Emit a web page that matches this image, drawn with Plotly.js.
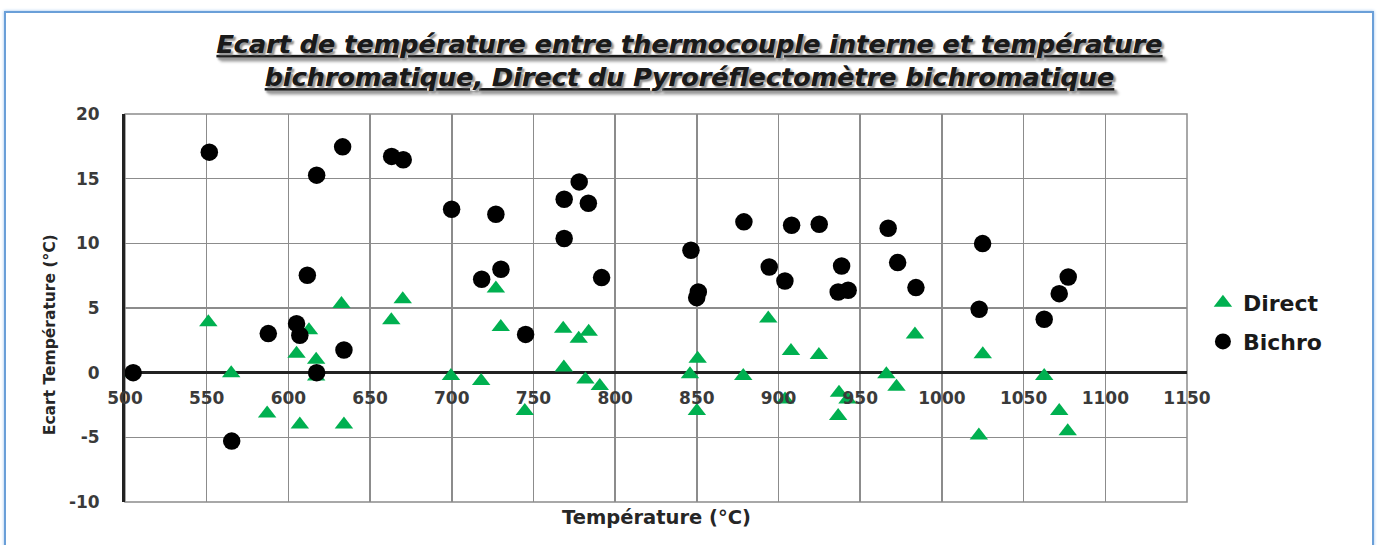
<!DOCTYPE html>
<html>
<head>
<meta charset="utf-8">
<script src="https://cdn.plot.ly/plotly-3.0.1.min.js"></script>
<style>
  html, body { margin:0; padding:0; background:#fff; }
  #wrap { position:relative; width:1379px; height:545px; overflow:hidden; }
  #chart { width:1379px; height:545px; }
  #frame { position:absolute; left:4px; top:11px; width:1366px; height:600px;
           border:2px solid #6a9fd8; box-shadow:0 0 3px #9cc3ee; pointer-events:none; }
</style>
</head>
<body>
<div id="wrap"><div id="chart"></div><div id="frame"></div></div>
<script>
// Température (°C) and Ecart (°C) for each series
const directTemp = [503, 551, 565, 587, 605, 612.6, 617, 617, 607, 634, 632.5, 663, 670, 699.5, 718, 727, 730, 744.7, 768.2, 768.6, 777.7, 783.8, 781.8, 790.6, 845.8, 850.5, 850, 878.4, 893.7, 907.6, 904, 924.7, 937, 942.2, 936.5, 966, 972.2, 983.5, 1025, 1022.6, 1062.6, 1071.8, 1077];
const directEcart = [0, 3.9, -0.05, -3.15, 1.47, 3.27, 1.0, -0.3, -4.0, -4.0, 5.3, 4.05, 5.67, -0.26, -0.65, 6.5, 3.53, -2.97, 3.4, 0.39, 2.63, 3.17, -0.52, -1.03, -0.13, 1.08, -2.97, -0.26, 4.18, 1.67, -2.07, 1.36, -1.55, -2.07, -3.36, -0.13, -1.08, 2.96, 1.42, -4.85, -0.26, -2.97, -4.52];

const bichroTemp = [505, 551.6, 565.3, 587.7, 605, 607, 611.6, 617.3, 617.3, 633.2, 634, 663.2, 670.3, 699.9, 727, 718.3, 730.1, 745.2, 778, 768.8, 783.6, 768.8, 791.7, 846.4, 850.9, 849.9, 878.8, 908, 924.9, 894.3, 903.9, 938.6, 936.5, 942.6, 967.1, 972.9, 984.1, 1024.9, 1022.8, 1077.3, 1071.8, 1062.6];
const bichroEcart = [0, 17.05, -5.29, 3.02, 3.79, 2.89, 7.53, 15.27, 0, 17.46, 1.75, 16.72, 16.46, 12.64, 12.25, 7.22, 8.0, 2.96, 14.75, 13.41, 13.1, 10.37, 7.35, 9.47, 6.24, 5.8, 11.66, 11.4, 11.48, 8.17, 7.09, 8.25, 6.24, 6.37, 11.17, 8.51, 6.58, 9.98, 4.9, 7.4, 6.11, 4.13];

const xTicks = [500, 550, 600, 650, 700, 750, 800, 850, 900, 950, 1000, 1050, 1100, 1150];
const yTicks = [-10, -5, 0, 5, 10, 15, 20];

const F = 'DejaVu Sans, Verdana, sans-serif';
const tickFont = {family: F, size: 17, color: '#3a3a3a', weight: 'bold'};

const traces = [
  {x: directTemp, y: directEcart, type: 'scatter', mode: 'markers', name: 'Direct',
   legendgroup: 'a',
   marker: {symbol: 'triangle-up', size: 16, color: '#00B050'}},
  {x: bichroTemp, y: bichroEcart, type: 'scatter', mode: 'markers', name: 'Bichro',
   legendgroup: 'b',
   marker: {symbol: 'circle', size: 17.5, color: '#000000'}}
];

const layout = {
  width: 1379, height: 545,
  margin: {l: 125, r: 192, t: 114, b: 43},
  paper_bgcolor: '#ffffff', plot_bgcolor: '#ffffff',
  showlegend: true,
  title: {
    text: 'Ecart de température entre thermocouple interne et température<br>bichromatique, Direct du Pyroréflectomètre bichromatique',
    font: {family: F, size: 25.5, color: '#1a1a1a', weight: 'bold', style: 'italic',
           lineposition: 'under', shadow: '2px 2px 2px #999'},
    x: 0.5, xref: 'container', xanchor: 'center',
    y: 0.903, yref: 'container', yanchor: 'top'
  },
  xaxis: {
    range: [500, 1150], tickvals: xTicks, ticktext: xTicks.map(String),
    anchor: 'free', position: 1/3,
    showgrid: true, gridcolor: '#8c8c8c', gridwidth: 1.5,
    zeroline: false, showline: false, ticks: '',
    ticklabelstandoff: 13,
    tickfont: tickFont
  },
  yaxis: {
    range: [-10, 20], tickvals: yTicks, ticktext: yTicks.map(String),
    showgrid: true, gridcolor: '#8c8c8c', gridwidth: 1.5,
    zeroline: true, zerolinecolor: '#222222', zerolinewidth: 2.5,
    showline: true, linecolor: '#222222', linewidth: 3, mirror: false,
    ticks: '', ticklabelstandoff: 19,
    tickfont: tickFont
  },
  shapes: [
    {type: 'rect', xref: 'paper', yref: 'paper', x0: 0, x1: 1, y0: 0, y1: 1,
     line: {color: '#8c8c8c', width: 1.5}, layer: 'below'}
  ],
  annotations: [
    {text: 'Température (°C)', xref: 'paper', yref: 'paper', x: 0.5, y: -0.041,
     xanchor: 'center', yanchor: 'middle', showarrow: false,
     font: {family: F, size: 19.5, color: '#262626', weight: 'bold'}},
    {text: 'Ecart Température (°C)', xref: 'paper', yref: 'paper', x: -0.0706, y: 0.43,
     xanchor: 'center', yanchor: 'middle', showarrow: false, textangle: -90,
     font: {family: F, size: 15.5, color: '#262626', weight: 'bold'}}
  ],
  legend: {
    x: 1.015, xanchor: 'left', y: 0.567, yanchor: 'top',
    traceorder: 'grouped', tracegroupgap: 7,
    bgcolor: 'rgba(0,0,0,0)',
    font: {family: F, size: 22, color: '#1a1a1a', weight: 'bold'}
  }
};

Plotly.newPlot('chart', traces, layout, {staticPlot: true, displayModeBar: false});
</script>
</body>
</html>
